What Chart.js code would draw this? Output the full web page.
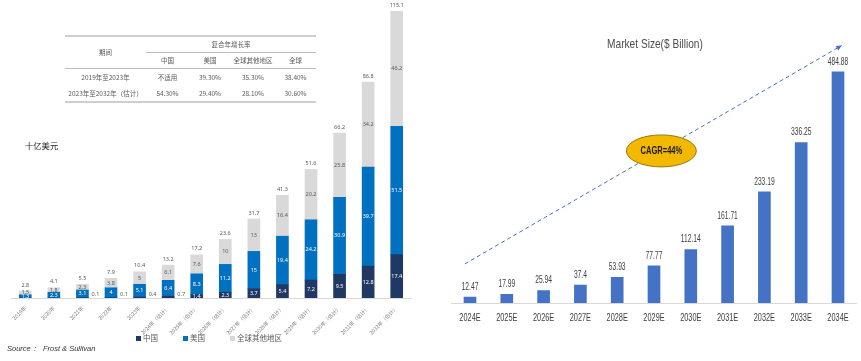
<!DOCTYPE html>
<html>
<head>
<meta charset="utf-8">
<script src="https://cdn.jsdelivr.net/npm/chart.js@4.4.1/dist/chart.umd.min.js"></script>
<style>
  body { margin: 0; width: 861px; height: 361px; overflow: hidden; position: relative; background: #fff;
         font-family: "Noto Sans CJK SC", "Noto Sans", sans-serif; }
  #leftChart { position: absolute; left: 0; top: 0; }
  #rightChart { position: absolute; left: 440px; top: 0; }
  #cagr { position: absolute; left: 65px; top: 35px; width: 251px; border-collapse: collapse;
          font-size: 6.5px; color: #595959; text-align: center; }
  #cagr td { padding: 0; height: 15px; line-height: 15px; white-space: nowrap; }
  #cagr tr.row td { height: 16px; line-height: 16px; }
  #cagr tr.h1 td { border-top: 2px solid #cfcfcf; }
  #cagr td.grp { border-bottom: 1px solid #bdbdbd; }
  #cagr tr.h2 td, #cagr tr.h1 td.c0 { border-bottom: 1px solid #bdbdbd; }
  #cagr tr.row:last-child td { border-bottom: 2px solid #cfcfcf; }
  #unit { position: absolute; left: 25px; top: 139px; font-size: 8.3px; color: #262626; }
  #legend { position: absolute; top: 332px; left: 0; font-size: 7.5px; color: #595959; }
  #legend span { position: absolute; white-space: nowrap; }
  #legend i { display: inline-block; width: 5px; height: 5px; margin-right: 2px; vertical-align: 0px; }
  #source { position: absolute; left: 7px; top: 344px; font-size: 7.5px; font-style: italic; color: #333;
            font-family: "Liberation Sans", sans-serif; }
  #title { position: absolute; left: 555px; width: 200px; top: 36px; text-align: center; font-size: 13px;
           color: #4d4d4d; font-family: "Liberation Sans", sans-serif; transform: scaleX(0.78); }
</style>
</head>
<body>
<canvas id="leftChart" width="425" height="340"></canvas>
<canvas id="rightChart" width="421" height="340"></canvas>
<table id="cagr"></table>
<div id="unit">十亿美元</div>
<div id="legend"></div>
<div id="source">Source：&nbsp; Frost &amp; Sullivan</div>
<div id="title">Market Size($ Billion)</div>
<script>
// ---- left chart data (十亿美元) ----
const years = ['2019年', '2020年', '2021年', '2022年', '2023年', '2024年（估计）', '2025年（估计）',
  '2026年（估计）', '2027年（估计）', '2028年（估计）', '2029年（估计）', '2030年（估计）',
  '2031年（估计）', '2032年（估计）'];
const china = [0, 0, 0.1, 0.1, 0.4, 0.7, 1.4, 2.3, 3.7, 5.4, 7.2, 9.5, 12.8, 17.4];
const usa = [1.3, 2.3, 3.1, 4, 5.1, 6.4, 8.3, 11.2, 15, 19.4, 24.2, 30.9, 39.7, 51.5];
const rest = [1.5, 1.8, 2.3, 3.8, 5, 6.1, 7.6, 10, 13, 16.4, 20.2, 25.8, 34.2, 46.2];
const totals = [2.8, 4.1, 5.5, 7.9, 10.4, 13.2, 17.2, 23.6, 31.7, 41.3, 51.6, 66.2, 86.8, 115.1];
const seriesNames = ['中国', '美国', '全球其他地区'];

// ---- CAGR table ----
const cagrCols = ['中国', '美国', '全球其他地区', '全球'];
const cagrPeriods = ['2019年至2023年', '2023年至2032年（估计）'];
const cagrRows = [
  ['不适用', '39.30%', '35.30%', '38.40%'],
  ['54.30%', '29.40%', '28.10%', '30.60%']
];

// ---- right chart data ----
const marketYears = ['2024E', '2025E', '2026E', '2027E', '2028E', '2029E', '2030E', '2031E', '2032E', '2033E', '2034E'];
const marketSize = [12.47, 17.99, 25.94, 37.4, 53.93, 77.77, 112.14, 161.71, 233.19, 336.25, 484.88];
const cagrText = 'CAGR=44%';

const colors = ['#1f3864', '#0070c0', '#d9d9d9'];
const latin = '"Liberation Sans", Arial, sans-serif';

// build the table
let html = '<colgroup><col style="width:81px"><col style="width:43px"><col style="width:42px"><col style="width:44px"><col style="width:41px"></colgroup>';
html += '<tr class="h1"><td class="c0" rowspan="2">期间</td><td class="grp" colspan="4">复合年增长率</td></tr>';
html += '<tr class="h2">' + cagrCols.map(c => '<td>' + c + '</td>').join('') + '</tr>';
cagrPeriods.forEach((p, i) => {
  html += '<tr class="row"><td>' + p + '</td>' + cagrRows[i].map(v => '<td>' + v + '</td>').join('') + '</tr>';
});
document.getElementById('cagr').innerHTML = html;

// legend
const legendX = [136, 183, 230];
document.getElementById('legend').innerHTML = seriesNames.map((n, i) =>
  `<span style="left:${legendX[i]}px"><i style="background:${colors[i]}"></i>${n}</span>`).join('');

// value labels for the stacked bars
const leftLabels = {
  id: 'leftLabels',
  afterDatasetsDraw(chart) {
    const ctx = chart.ctx;
    ctx.save();
    ctx.font = '5.5px "Noto Sans", sans-serif';
    ctx.textAlign = 'center';
    ctx.textBaseline = 'middle';
    chart.data.datasets.forEach((ds, di) => {
      chart.getDatasetMeta(di).data.forEach((bar, i) => {
        const v = ds.data[i];
        if (!v) return;
        const mid = (bar.y + bar.base) / 2;
        if (di === 0 && v < 1) {
          // too small to hold its label, put it beside the bar
          ctx.fillStyle = '#595959';
          ctx.fillText(String(v), bar.x + 13, mid - 3);
        } else {
          ctx.fillStyle = di === 2 ? '#595959' : '#ffffff';
          ctx.fillText(String(v), bar.x, mid);
        }
      });
    });
    const tops = chart.getDatasetMeta(2).data;
    ctx.fillStyle = '#595959';
    totals.forEach((t, i) => ctx.fillText(String(t), tops[i].x, tops[i].y - 6));
    ctx.restore();
  }
};

new Chart(document.getElementById('leftChart'), {
  type: 'bar',
  data: {
    labels: years,
    datasets: [china, usa, rest].map((d, i) => ({
      label: seriesNames[i],
      data: d,
      backgroundColor: colors[i],
      barThickness: 12
    }))
  },
  options: {
    responsive: false,
    animation: false,
    layout: { padding: { left: 11, right: 14, top: 9, bottom: 0 } },
    plugins: { legend: { display: false }, tooltip: { enabled: false } },
    scales: {
      x: {
        stacked: true,
        grid: { display: false },
        border: { display: true, color: '#d9d9d9' },
        ticks: { font: { size: 5.2, family: '"Noto Sans CJK SC", sans-serif' }, color: '#7f7f7f',
                 minRotation: 45, maxRotation: 45, autoSkip: false, padding: -1 },
        afterFit(s) { s.height = 42; }
      },
      y: { stacked: true, display: false, min: 0, max: 116 }
    }
  },
  plugins: [leftLabels]
});

// the right chart uses a condensed face: squeeze Liberation Sans horizontally
function narrowText(ctx, text, x, y, sx) {
  ctx.save();
  ctx.translate(x, y);
  ctx.scale(sx, 1);
  ctx.fillText(text, 0, 0);
  ctx.restore();
}

// category labels, value labels, trend arrow and CAGR bubble on the right chart
const rightDeco = {
  id: 'rightDeco',
  afterDatasetsDraw(chart) {
    const { ctx, scales: { x, y } } = chart;
    ctx.save();
    ctx.textAlign = 'center';
    ctx.textBaseline = 'middle';
    ctx.fillStyle = '#404040';
    ctx.font = '10.5px ' + latin;
    marketYears.forEach((lab, i) => narrowText(ctx, lab, x.getPixelForValue(i), chart.chartArea.bottom + 15, 0.7));
    ctx.font = '10px ' + latin;
    chart.getDatasetMeta(0).data.forEach((b, i) => narrowText(ctx, String(marketSize[i]), b.x, b.y - 10, 0.67));

    // dashed trend arrow
    const x0 = x.getPixelForValue(-0.14), y0 = y.getPixelForValue(82);
    const x1 = x.getPixelForValue(10.1), y1 = y.getPixelForValue(540);
    ctx.strokeStyle = '#4472c4';
    ctx.lineWidth = 1;
    ctx.setLineDash([4, 3]);
    ctx.beginPath(); ctx.moveTo(x0, y0); ctx.lineTo(x1, y1); ctx.stroke();
    ctx.setLineDash([]);
    const a = Math.atan2(y1 - y0, x1 - x0);
    ctx.fillStyle = '#4472c4';
    ctx.beginPath();
    ctx.moveTo(x1, y1);
    ctx.lineTo(x1 - 6 * Math.cos(a - 0.45), y1 - 6 * Math.sin(a - 0.45));
    ctx.lineTo(x1 - 6 * Math.cos(a + 0.45), y1 - 6 * Math.sin(a + 0.45));
    ctx.closePath(); ctx.fill();

    // CAGR ellipse
    const cx = x.getPixelForValue(5.2), cy = y.getPixelForValue(319);
    ctx.beginPath();
    ctx.ellipse(cx, cy, 35, 16, 0, 0, Math.PI * 2);
    ctx.fillStyle = '#f2b900';
    ctx.fill();
    ctx.strokeStyle = '#7f6000';
    ctx.lineWidth = 0.8;
    ctx.stroke();
    ctx.fillStyle = '#1a1a1a';
    ctx.font = 'bold 10.5px ' + latin;
    narrowText(ctx, cagrText, cx, cy, 0.72);
    ctx.restore();
  }
};

new Chart(document.getElementById('rightChart'), {
  type: 'bar',
  data: {
    labels: marketYears,
    datasets: [{ label: 'Market Size', data: marketSize, backgroundColor: '#4472c4', barThickness: 12 }]
  },
  options: {
    responsive: false,
    animation: false,
    layout: { padding: { left: 11.6, right: 4.6, top: 36, bottom: 0 } },
    plugins: { legend: { display: false }, tooltip: { enabled: false } },
    scales: {
      x: {
        grid: { display: false },
        border: { display: true, color: '#d9d9d9' },
        ticks: { display: false },
        afterFit(s) { s.height = 37; }
      },
      y: { display: false, min: 0, max: 560 }
    }
  },
  plugins: [rightDeco]
});
</script>
</body>
</html>
